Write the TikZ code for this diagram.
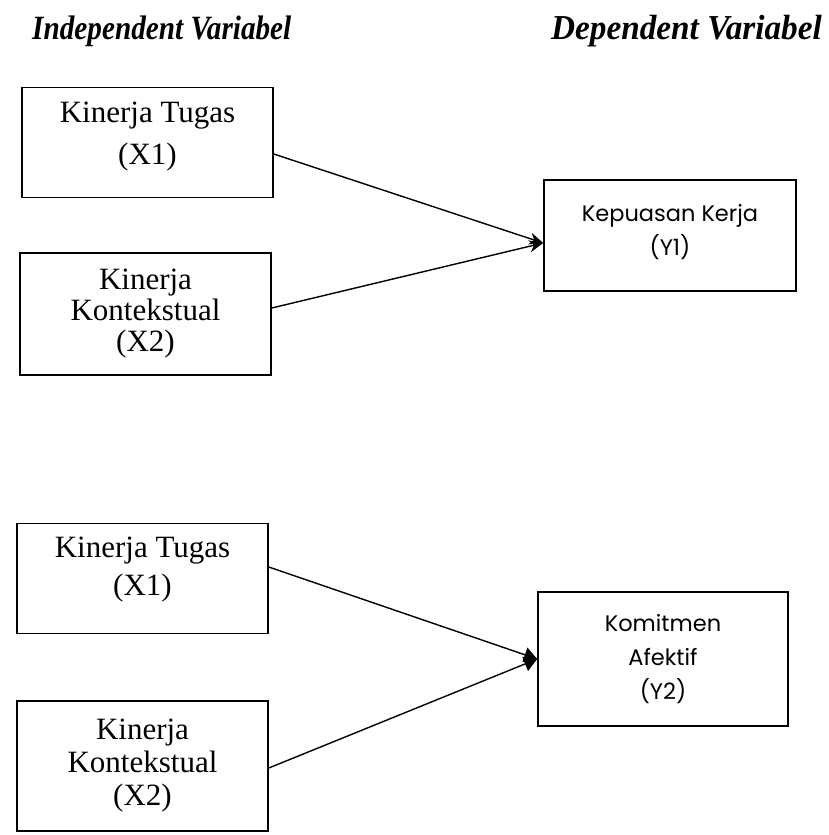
\documentclass[tikz,border=0pt]{standalone}
\usepackage{fontspec}
\setmainfont{Liberation Serif}
\newfontfamily\headfont[FakeStretch=0.86]{Liberation Serif}
\newfontfamily\headwide[FakeStretch=0.95]{Liberation Serif}
\newfontfamily\ysans{Poppins}
\usepackage{tikz}
\usetikzlibrary{arrows.meta,positioning,calc}

\begin{document}
\begin{tikzpicture}[
  x=1pt, y=-1pt,
  head/.style={inner sep=0pt},
  xbox/.style={rectangle, draw=black, line width=1.6pt, align=center, minimum width=251pt, minimum height=110pt, inner sep=0pt, font=\fontsize{31}{39}\selectfont},
  ybox/.style={rectangle, draw=black, line width=1.6pt, align=center, minimum width=252pt, minimum height=111pt, inner sep=0pt, font=\ysans\fontsize{22.5}{34}\selectfont},
  arrow/.style={-{Stealth[length=14pt, width=12pt]}, line width=1.4pt},
  arrowb/.style={-{Triangle[length=13pt, width=15pt]}, line width=1.4pt}
]
\useasboundingbox (0,0) rectangle (828,835);

% headers
\node[head, anchor=west, font=\headfont\bfseries\itshape\fontsize{34}{38}\selectfont] (indep) at (32,31) {Independent Variabel};
\node[head, anchor=east, font=\headwide\bfseries\itshape\fontsize{35}{40}\selectfont] (dep) at (822,31) {Dependent Variabel};

% first model
\node[xbox, text depth=18pt, font=\fontsize{31}{42}\selectfont] (tugas1) at (147.5,142.5) {Kinerja Tugas\\(X1)};
\node[xbox, minimum height=122pt, font=\fontsize{31}{31}\selectfont] (konteks1) at (145.5,314) {Kinerja\\Kontekstual\\(X2)};
\node[ybox, text depth=12pt] (puas) at (670,235.5) {Kepuasan Kerja\\(Y1)};

% second model
\node[xbox, text depth=25pt, font=\fontsize{31}{38}\selectfont] (tugas2) at (142.5,578.5) {Kinerja Tugas\\(X1)};
\node[xbox, minimum height=130pt, font=\fontsize{31}{33}\selectfont] (konteks2) at (142.5,766) {Kinerja\\Kontekstual\\(X2)};
\node[ybox, minimum width=250pt, minimum height=134pt] (komit) at (663,659) {Komitmen\\Afektif\\(Y2)};

\draw[arrow] ([yshift=-11.5pt]tugas1.east) -- ([yshift=-7.5pt]puas.west);
\draw[arrow] ([yshift=6pt]konteks1.east) -- ([yshift=-7.5pt]puas.west);
\draw[arrowb] ([yshift=11.5pt]tugas2.east) -- (komit.west);
\draw[arrowb] ([yshift=-2pt]konteks2.east) -- (komit.west);
\end{tikzpicture}
\end{document}
